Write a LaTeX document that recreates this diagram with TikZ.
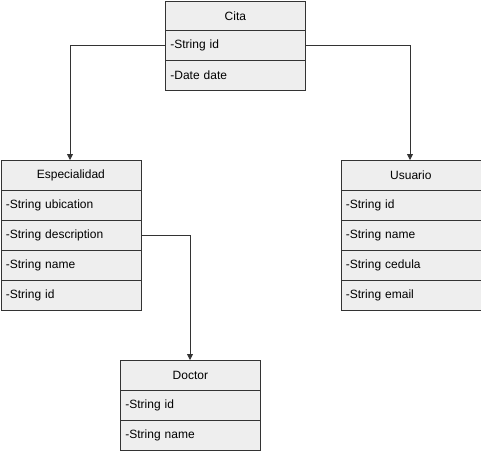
\documentclass[tikz,border=0pt]{standalone}
\usepackage{fontspec}
\setmainfont{Liberation Sans}
\usetikzlibrary{arrows.meta}
\definecolor{boxfill}{HTML}{EEEEEE}
\definecolor{linec}{HTML}{333333}
\tikzset{
  cell/.style={draw=linec, fill=boxfill, line width=0.8pt, minimum width=140pt, minimum height=30pt, inner sep=0pt, anchor=north west, font=\fontsize{12}{14}\selectfont},
  head/.style={cell, align=center},
  attr/.style={cell, text width=130pt, align=left},
  conn/.style={draw=linec, line width=0.8pt, -{Triangle[length=6pt,width=6pt]}}
}
\begin{document}
\begin{tikzpicture}[x=1pt,y=-1pt]
\useasboundingbox (0,0) rectangle (481,451);
% Cita
\node[head] (cita) at (165,0.5) {Cita};
\node[attr] (citaid) at (165,30) {-String id};
\node[attr] (citadate) at (165,60) {-Date date};
% Especialidad
\node[head] (esp) at (0.5,160) {Especialidad};
\node[attr] (espubi) at (0.5,190) {-String ubication};
\node[attr] (espdesc) at (0.5,220) {-String description};
\node[attr] (espname) at (0.5,250) {-String name};
\node[attr] (espid) at (0.5,280) {-String id};
% Usuario
\node[head] (usu) at (340.5,160) {Usuario};
\node[attr] (usuid) at (340.5,190) {-String id};
\node[attr] (usuname) at (340.5,220) {-String name};
\node[attr] (usuced) at (340.5,250) {-String cedula};
\node[attr] (usuemail) at (340.5,280) {-String email};
% Doctor
\node[head] (doc) at (120,360) {Doctor};
\node[attr] (docid) at (120,390) {-String id};
\node[attr] (docname) at (120,420) {-String name};
% connectors
\draw[conn] (citaid.west) -| (esp.north -| 70,0);
\draw[conn] (citaid.east) -| (usu.north -| 410,0);
\draw[conn] (espdesc.east) -| (doc.north -| 190,0);
\end{tikzpicture}
\end{document}
